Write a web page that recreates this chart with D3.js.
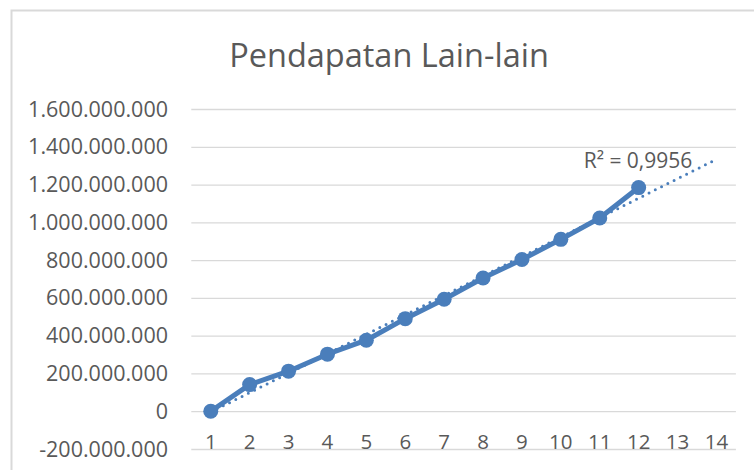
<!DOCTYPE html>
<html>
<head>
<meta charset="utf-8">
<style>
  body { margin: 0; background: #fff; }
  text { font-family: "Open Sans", sans-serif; fill: #595959; }
  .grid line { stroke: #d9d9d9; stroke-width: 1.3; }
  .grid path { stroke-width: 0; }
</style>
</head>
<body>
<svg width="754" height="470"></svg>
<script src="https://cdn.jsdelivr.net/npm/d3@7"></script>
<script>

// categories on the x axis (trendline runs on to 14)
var categories = [1, 2, 3, 4, 5, 6, 7, 8, 9, 10, 11, 12, 13, 14];
// Pendapatan Lain-lain, periods 1..12
var values = [0, 141000000, 212000000, 302000000, 376000000, 490000000,
              593000000, 705000000, 803000000, 910000000, 1023000000, 1184000000];
var yTicks = [-200000000, 0, 200000000, 400000000, 600000000, 800000000,
              1000000000, 1200000000, 1400000000, 1600000000];
var r2Text = "R\u00b2 = 0,9956";

var blue = "#4a7ebb";

var svg = d3.select("svg");

// chart frame
svg.append("rect")
    .attr("x", 11.5).attr("y", 10.5)
    .attr("width", 760).attr("height", 480)
    .attr("fill", "none")
    .attr("stroke", "#d9d9d9")
    .attr("stroke-width", 2);

var x = d3.scalePoint()
    .domain(categories)
    .range([191.3, 735.9])
    .padding(0.5);

var y = d3.scaleLinear()
    .domain([-200000000, 1600000000])
    .range([449, 109]);

// dots for thousands, plain hyphen for minus
var fmt = function(d) {
  return d3.format(",")(d).replace(/,/g, ".").replace("\u2212", "-");
};

// horizontal gridlines
svg.append("g")
    .attr("class", "grid")
    .attr("transform", "translate(191.3,0)")
    .call(d3.axisLeft(y).tickValues(yTicks).tickSize(-(735.9 - 191.3)).tickFormat(""));

// y labels
svg.append("g").selectAll("text")
    .data(yTicks)
    .enter().append("text")
    .attr("x", 168)
    .attr("y", function(d) { return y(d); })
    .attr("dy", "0.35em")
    .attr("text-anchor", "end")
    .style("font-size", "21.5px")
    .text(fmt);

// x labels
svg.append("g").selectAll("text")
    .data(categories)
    .enter().append("text")
    .attr("x", function(d) { return x(d); })
    .attr("y", 442)
    .attr("dy", "0.35em")
    .attr("text-anchor", "middle")
    .style("font-size", "20.5px")
    .text(function(d) { return d; });

// title
svg.append("text")
    .attr("x", 389)
    .attr("y", 56)
    .attr("dy", "0.35em")
    .attr("text-anchor", "middle")
    .style("font-size", "32.5px")
    .text("Pendapatan Lain-lain");

// linear trendline (least squares over the 12 points), extended to 14
var xs = values.map(function(d, i) { return i + 1; });
var mx = d3.mean(xs), my = d3.mean(values);
var sxy = d3.sum(xs, function(v, i) { return (v - mx) * (values[i] - my); });
var sxx = d3.sum(xs, function(v) { return (v - mx) * (v - mx); });
var slope = sxy / sxx, icept = my - slope * mx;
var trend = [1, 14].map(function(c) { return { c: c, v: icept + slope * c }; });

svg.append("path")
    .attr("d", d3.line()
        .x(function(d) { return x(d.c); })
        .y(function(d) { return y(d.v); })(trend))
    .attr("fill", "none")
    .attr("stroke", blue)
    .attr("stroke-width", 3)
    .attr("stroke-linecap", "round")
    .attr("stroke-dasharray", "0 7");

// series line
var line = d3.line()
    .x(function(d, i) { return x(categories[i]); })
    .y(function(d) { return y(d); });

svg.append("path")
    .attr("d", line(values))
    .attr("fill", "none")
    .attr("stroke", blue)
    .attr("stroke-width", 5)
    .attr("stroke-linejoin", "round");

svg.append("g").selectAll("circle")
    .data(values)
    .enter().append("circle")
    .attr("cx", function(d, i) { return x(categories[i]); })
    .attr("cy", function(d) { return y(d); })
    .attr("r", 7.5)
    .attr("fill", blue);

// R² label
svg.append("text")
    .attr("x", 638)
    .attr("y", 161)
    .attr("dy", "0.35em")
    .attr("text-anchor", "middle")
    .style("font-size", "21px")
    .text(r2Text);

</script>
</body>
</html>
